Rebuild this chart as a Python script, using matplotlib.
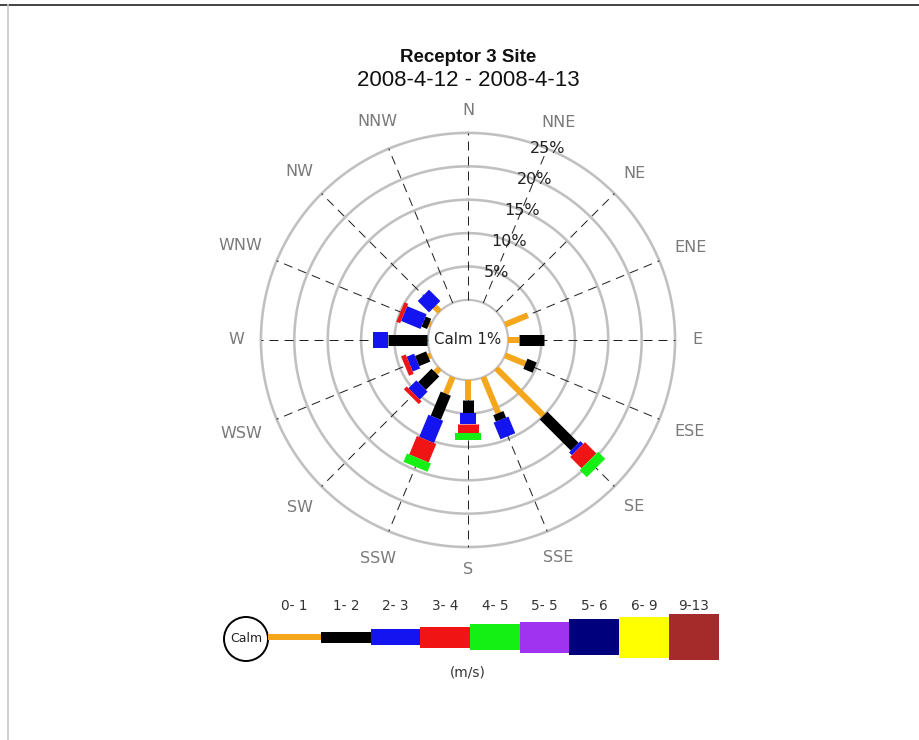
import numpy as np
import matplotlib
matplotlib.use('Agg')
import matplotlib.pyplot as plt
from matplotlib.patches import Rectangle, Circle

# ---------------- data ----------------
title_line1 = "Receptor 3 Site"
title_line2 = "2008-4-12 - 2008-4-13"
directions = ['N', 'NNE', 'NE', 'ENE', 'E', 'ESE', 'SE', 'SSE',
              'S', 'SSW', 'SW', 'WSW', 'W', 'WNW', 'NW', 'NNW']
speed_bins = ['0- 1', '1- 2', '2- 3', '3- 4', '4- 5', '5- 5', '5- 6', '6- 9', '9-13']
bin_colors = ['#F4A61C', '#000000', '#1414F0', '#F01414', '#14F014',
              '#A033F0', '#00007C', '#FFFF00', '#A52A2A']
# percent frequency per direction for each speed bin
s_0_1 = [0, 0, 0, 3.7, 1.65, 3.3, 10.0, 5.85, 3.0, 2.7, 0.9, 0.45, 0.2, 0.3, 1.05, 0]
s_1_2 = [0, 0, 0, 0, 3.75, 1.5, 6.6, 1.05, 1.95, 3.9, 2.85, 1.8, 5.85, 0.9, 0, 0]
s_2_3 = [0, 0, 0, 0, 0, 0, 0.6, 2.7, 1.65, 3.6, 1.65, 1.2, 2.1, 3.15, 2.4, 0]
s_3_4 = [0, 0, 0, 0, 0, 0, 2.4, 0, 1.35, 3.0, 0.6, 0.75, 0, 0.6, 0, 0]
s_4_5 = [0, 0, 0, 0, 0, 0, 1.5, 0, 1.05, 1.35, 0, 0, 0, 0, 0, 0]
series = [s_0_1, s_1_2, s_2_3, s_3_4, s_4_5]
calm_pct = 1
ring_pcts = [5, 10, 15, 20, 25]
unit_label = "(m/s)"

# ---------------- styling / layout ----------------
W, H, DPI = 920, 740, 100
PX = 72.0 / DPI                      # points per pixel
bar_px = [6, 11, 16, 21, 26, 31, 36, 41, 46]
cx, cy = 468, 340                    # rose centre (px)
px_per_pct = 6.68
calm_off = 6.0                       # calm circle radius in % units
rmax = 36.0

fig = plt.figure(figsize=(W / DPI, H / DPI), dpi=DPI)
fig.patch.set_facecolor('white')

# overlay axes in pixel coordinates (for frame, titles, legend)
ov = fig.add_axes([0, 0, 1, 1])
ov.set_xlim(0, W)
ov.set_ylim(H, 0)
ov.axis('off')
ov.plot([0, W], [5, 5], color='#111111', lw=1.1)
ov.plot([8, 8], [5, H], color='#C8C8C8', lw=1.2)

tfam = ['Liberation Sans Narrow', 'Liberation Sans', 'DejaVu Sans']
ov.text(cx, 57, title_line1, ha='center', va='center', fontsize=13.5, fontweight='bold',
        family=tfam, color='#111111')
ov.text(cx, 80, title_line2, ha='center', va='center', fontsize=16,
        family=tfam, color='#111111')

# polar rose
rad_px = rmax * px_per_pct
ax = fig.add_axes([(cx - rad_px) / W, (H - cy - rad_px) / H, 2 * rad_px / W, 2 * rad_px / H],
                  projection='polar')
ax.set_theta_zero_location('N')
ax.set_theta_direction(-1)
ax.set_ylim(0, rmax)
ax.grid(False)
ax.set_xticks([])
ax.set_yticks([])
ax.spines['polar'].set_visible(False)
ax.patch.set_alpha(0)

full = np.linspace(0, 2 * np.pi, 721)
ax.plot(full, np.full_like(full, calm_off), color='#C0C0C0', lw=2.2 * PX, zorder=2)
for p in ring_pcts:
    ax.plot(full, np.full_like(full, calm_off + p), color='#C0C0C0', lw=2.6 * PX, zorder=2)

angles = np.deg2rad(np.arange(len(directions)) * 360.0 / len(directions))
for th in angles:
    ax.plot([th, th], [calm_off, calm_off + ring_pcts[-1]], color='#222222',
            lw=1.0 * PX, linestyle=(0, (9, 6)), zorder=3)

for i, th in enumerate(angles):
    r0 = calm_off
    for k, s in enumerate(series):
        v = s[i]
        if v > 0:
            ax.plot([th, th], [r0, r0 + v], color=bin_colors[k], lw=bar_px[k] * PX,
                    solid_capstyle='butt', zorder=5 + k)
            r0 += v

# direction labels: placed so that their box edge sits at a constant radius
renderer = fig.canvas.get_renderer()
edge_px = 224.0
for d, th in zip(directions, angles):
    t = ax.text(th, 35.0, d, ha='center', va='center', fontsize=11.5, color='#7A7A7A')
    bb = t.get_window_extent(renderer=renderer)
    hw, hh = bb.width / 2, bb.height / 2
    r_px = edge_px + abs(hw * np.sin(th)) + abs(hh * np.cos(th)) * 0.75
    t.set_position((th, r_px / px_per_pct))

lab_th = np.deg2rad(22.5)
for p in ring_pcts:
    ax.text(lab_th, calm_off + p, f"{p}%", ha='center', va='center', fontsize=11.5,
            color='#222222', zorder=20)

ax.text(0, 0, f"Calm {calm_pct}%", ha='center', va='center', fontsize=10.8,
        color='#222222', zorder=20)

# legend
ly = 637
x_start = 321
bw = 49.7
lfs = 9.8
ov.add_patch(Circle((246, 639), 22, facecolor='white', edgecolor='black', lw=1.4))
ov.text(246, 639, "Calm", ha='center', va='center', fontsize=9, color='#222222')
ov.plot([268, x_start], [ly, ly], color=bin_colors[0], lw=bar_px[0] * PX, solid_capstyle='butt')
ov.text((268 + x_start) / 2, 606, speed_bins[0], ha='center', va='center', fontsize=lfs, color='#333333')
for k in range(1, len(speed_bins)):
    x0 = x_start + (k - 1) * bw
    h = bar_px[k]
    ov.add_patch(Rectangle((x0, ly - h / 2), bw, h, facecolor=bin_colors[k], edgecolor='none'))
    ov.text(x0 + bw / 2, 606, speed_bins[k], ha='center', va='center', fontsize=lfs, color='#333333')
ov.text(cx, 672, unit_label, ha='center', va='center', fontsize=lfs, color='#333333')

fig.savefig('out.png', dpi=DPI, facecolor='white')
